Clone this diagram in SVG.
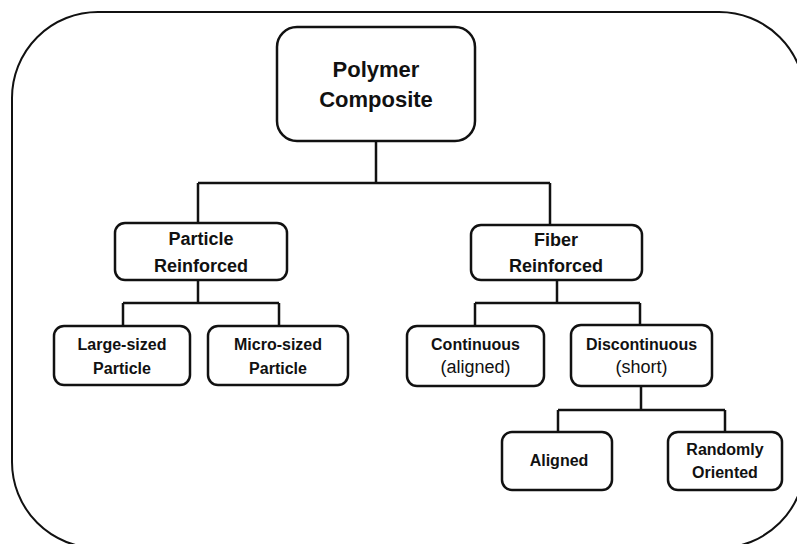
<svg xmlns="http://www.w3.org/2000/svg" width="797" height="544" viewBox="0 0 797 544">
  <style>
    .frame { fill: none; stroke: #111; stroke-width: 2; }
    .box { fill: #fff; stroke: #111; stroke-width: 2.5; }
    .wire { fill: none; stroke: #111; stroke-width: 2.5; }
    text { font-family: "Liberation Sans", Arial, sans-serif; fill: #111; text-anchor: middle; }
    .b { font-weight: bold; }
    .r { font-weight: normal; }
  </style>
  <rect x="0" y="0" width="797" height="544" fill="#fff"/>
  <!-- outer frame -->
  <rect class="frame" x="12" y="12" width="793" height="536" rx="86" ry="86"/>

  <!-- connectors -->
  <g id="connectors">
    <path class="wire" d="M376,141 V183 M198,183 H550 M198,183 V223 M550,183 V225"/>
    <path class="wire" d="M198,280 V303 M123,303 H279 M123,303 V326 M279,303 V326"/>
    <path class="wire" d="M557,280 V303 M475,303 H640 M475,303 V326 M640,303 V326"/>
    <path class="wire" d="M641,386 V410 M558,410 H725 M558,410 V432 M725,410 V432"/>
  </g>

  <g id="polymer-composite">
    <rect class="box" x="277" y="27" width="198" height="114" rx="20"/>
    <text class="b" x="376" y="77" font-size="22">Polymer</text>
    <text class="b" x="376" y="107" font-size="22">Composite</text>
  </g>

  <g id="particle-reinforced">
    <rect class="box" x="115" y="223" width="172" height="57" rx="10"/>
    <text class="b" x="201" y="245" font-size="18">Particle</text>
    <text class="b" x="201" y="272" font-size="18">Reinforced</text>
  </g>

  <g id="fiber-reinforced">
    <rect class="box" x="471" y="225" width="171" height="55" rx="10"/>
    <text class="b" x="556" y="246" font-size="18">Fiber</text>
    <text class="b" x="556" y="272" font-size="18">Reinforced</text>
  </g>

  <g id="large-sized-particle">
    <rect class="box" x="54" y="326" width="136" height="59" rx="10"/>
    <text class="b" x="122" y="350" font-size="16">Large-sized</text>
    <text class="b" x="122" y="374" font-size="16">Particle</text>
  </g>

  <g id="micro-sized-particle">
    <rect class="box" x="208" y="326" width="140" height="59" rx="10"/>
    <text class="b" x="278" y="350" font-size="16">Micro-sized</text>
    <text class="b" x="278" y="374" font-size="16">Particle</text>
  </g>

  <g id="continuous">
    <rect class="box" x="407" y="326" width="137" height="60" rx="10"/>
    <text class="b" x="475.5" y="350" font-size="16">Continuous</text>
    <text class="r" x="475.5" y="373" font-size="18">(aligned)</text>
  </g>

  <g id="discontinuous">
    <rect class="box" x="571" y="325" width="141" height="61" rx="10"/>
    <text class="b" x="641.5" y="350" font-size="16">Discontinuous</text>
    <text class="r" x="641.5" y="373" font-size="18">(short)</text>
  </g>

  <g id="aligned">
    <rect class="box" x="502" y="432" width="110" height="58" rx="10"/>
    <text class="b" x="559" y="466" font-size="16">Aligned</text>
  </g>

  <g id="randomly-oriented">
    <rect class="box" x="668" y="432" width="114" height="58" rx="10"/>
    <text class="b" x="725" y="455" font-size="16">Randomly</text>
    <text class="b" x="725" y="478" font-size="16">Oriented</text>
  </g>
</svg>
